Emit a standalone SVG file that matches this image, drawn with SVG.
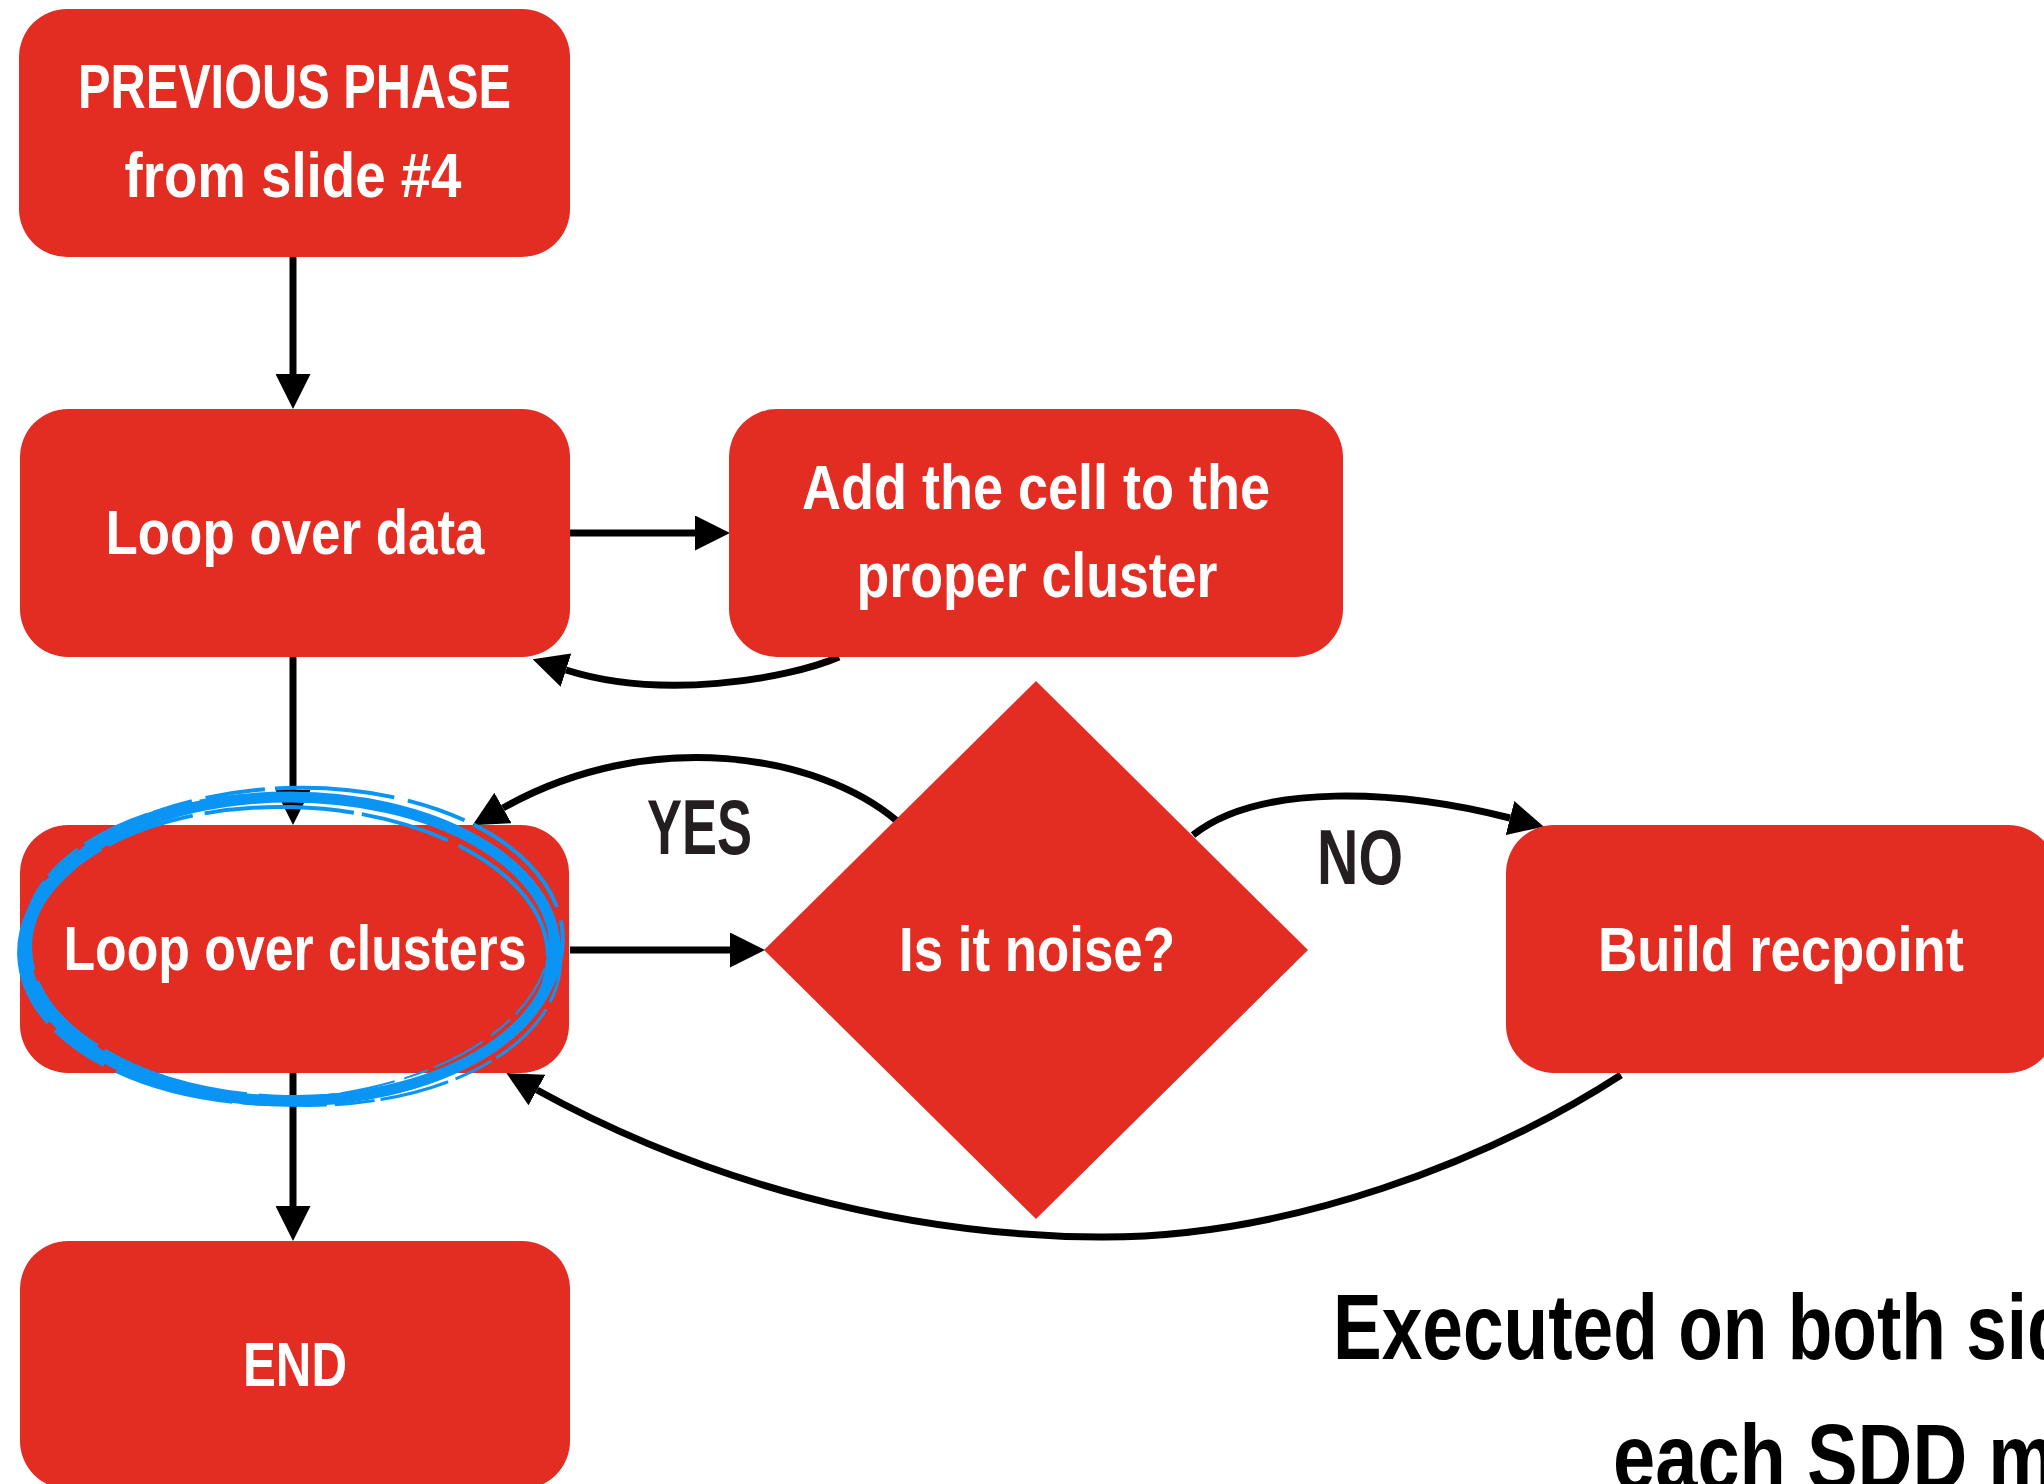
<svg xmlns="http://www.w3.org/2000/svg" width="2044" height="1484" viewBox="0 0 2044 1484">
<style>
.box{fill:#E32D23;}
.lbl{font-family:"Liberation Sans Narrow","Liberation Sans",Arial,sans-serif;font-weight:bold;font-size:63px;fill:#FFFFFF;text-anchor:middle;}
.yn{font-family:"Liberation Sans Narrow","Liberation Sans",Arial,sans-serif;font-weight:bold;font-size:77px;fill:#231F20;text-anchor:middle;}
.note{font-family:"Liberation Sans Narrow","Liberation Sans",Arial,sans-serif;font-weight:bold;font-size:92px;fill:#000000;}
.conn{fill:none;stroke:#000000;stroke-width:7;marker-end:url(#arrow);}
.scrib{fill:none;stroke:#0A95F5;}
</style>
<defs>
<marker id="arrow" markerUnits="userSpaceOnUse" markerWidth="35" markerHeight="35" viewBox="0 0 35 35" refX="0" refY="17.5" orient="auto">
<path d="M0 0 L35 17.5 L0 35 Z" fill="#000000"/>
</marker>
</defs>
<rect width="2044" height="1484" fill="#FFFFFF"/>
<g id="connectors">
<path class="conn" d="M293 257 L293 374"/>
<path class="conn" d="M570 533 L695 533"/>
<path class="conn" d="M839 657 C785 680 660 700 566 670"/>
<path class="conn" d="M293 657 L293 790"/>
<path class="conn" d="M570 950 L730 950"/>
<path class="conn" d="M897 821 C820 755 650 725 503 808"/>
<path class="conn" d="M1193 835 C1260 782 1400 790 1510 818"/>
<path class="conn" d="M1621 1075 C1490 1160 1290 1238 1100 1237 C900 1236 700 1180 537 1090"/>
<path class="conn" d="M293 1073 L293 1206"/>
</g>
<g id="node-previous">
<rect class="box" x="19" y="9" width="551" height="248" rx="48" ry="48"/>
<text class="lbl" x="294.5" y="108" textLength="433" lengthAdjust="spacingAndGlyphs">PREVIOUS PHASE</text>
<text class="lbl" x="293" y="197" textLength="337" lengthAdjust="spacingAndGlyphs">from slide #4</text>
</g>
<g id="node-loop-data">
<rect class="box" x="20" y="409" width="550" height="248" rx="48" ry="48"/>
<text class="lbl" x="295" y="554" textLength="379" lengthAdjust="spacingAndGlyphs">Loop over data</text>
</g>
<g id="node-add-cell">
<rect class="box" x="729" y="409" width="614" height="248" rx="48" ry="48"/>
<text class="lbl" x="1036" y="509" textLength="468" lengthAdjust="spacingAndGlyphs">Add the cell to the</text>
<text class="lbl" x="1037" y="597" textLength="361" lengthAdjust="spacingAndGlyphs">proper cluster</text>
</g>
<g id="node-loop-clusters">
<rect class="box" x="20" y="825" width="549" height="248" rx="48" ry="48"/>
<text class="lbl" x="295" y="970" textLength="463" lengthAdjust="spacingAndGlyphs">Loop over clusters</text>
</g>
<g id="node-noise">
<polygon class="box" points="1036,681 1308,950 1036,1219 764,950"/>
<text class="lbl" x="1037" y="971" textLength="276" lengthAdjust="spacingAndGlyphs">Is it noise?</text>
</g>
<g id="node-recpoint">
<rect class="box" x="1506" y="825" width="550" height="248" rx="48" ry="48"/>
<text class="lbl" x="1781" y="971" textLength="366" lengthAdjust="spacingAndGlyphs">Build recpoint</text>
</g>
<g id="node-end">
<rect class="box" x="20" y="1241" width="550" height="248" rx="48" ry="48"/>
<text class="lbl" x="295" y="1386" textLength="104" lengthAdjust="spacingAndGlyphs">END</text>
</g>
<g id="labels">
<text class="yn" x="699.5" y="854" textLength="105" lengthAdjust="spacingAndGlyphs">YES</text>
<text class="yn" x="1360" y="884" textLength="86" lengthAdjust="spacingAndGlyphs">NO</text>
<text class="note" x="1333" y="1359" textLength="820" lengthAdjust="spacingAndGlyphs">Executed on both sides</text>
<text class="note" x="1613" y="1489" textLength="645" lengthAdjust="spacingAndGlyphs">each SDD module</text>
</g>
<g id="highlight">
<ellipse class="scrib" cx="290" cy="949" rx="265" ry="152" stroke-width="11"/>
<ellipse class="scrib" cx="291" cy="946" rx="272" ry="158" stroke-width="4" transform="rotate(-2 291 946)" stroke-dasharray="120 14 60 10"/>
<ellipse class="scrib" cx="289" cy="952" rx="259" ry="145" stroke-width="4" transform="rotate(1.5 289 952)" stroke-dasharray="90 12 150 8"/>
<ellipse class="scrib" cx="292" cy="950" rx="269" ry="155" stroke-width="3" transform="rotate(3 292 950)" stroke-dasharray="40 8 70 6"/>
<ellipse class="scrib" cx="288" cy="948" rx="262" ry="150" stroke-width="2" transform="rotate(-3 288 948)" stroke-dasharray="25 10 55 7"/>
</g>
</svg>
